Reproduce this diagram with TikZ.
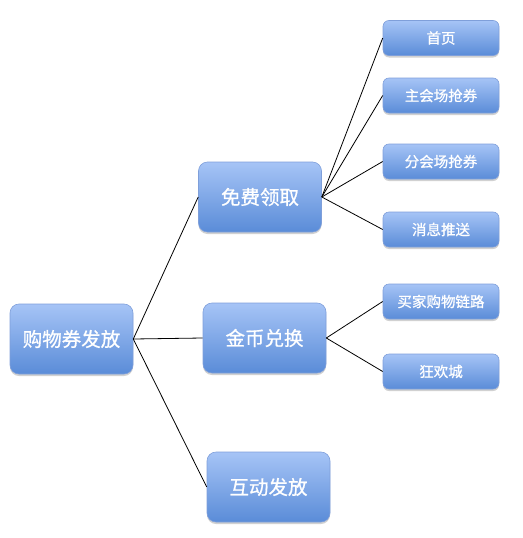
\documentclass[tikz,border=0pt]{standalone}
\usepackage{fontspec}
\newfontfamily\cjk[FakeBold=0.8]{Noto Sans CJK SC}
\usetikzlibrary{shadows}
\definecolor{boxtop}{HTML}{A6C4F6}
\definecolor{boxbot}{HTML}{5A8CD8}
\definecolor{boxedge}{HTML}{7F9FDA}
\begin{document}
\begin{tikzpicture}[x=1pt,y=-1pt,
  boxbase/.style={rectangle, draw=boxedge, line width=0.6pt, top color=boxtop, bottom color=boxbot,
    text=white, inner sep=0pt, font=\cjk,
    drop shadow={shadow xshift=0pt, shadow yshift=-2pt, opacity=0.3, fill=black!60}},
  bigbox/.style={boxbase, rounded corners=9pt, minimum width=123pt, minimum height=70pt, font=\cjk\fontsize{19.5}{22}\selectfont},
  smallbox/.style={boxbase, rounded corners=6pt, minimum width=116pt, minimum height=35pt, font=\cjk\fontsize{14.5}{17}\selectfont},
  link/.style={draw=black, line width=0.8pt}]
\useasboundingbox (0,0) rectangle (522,538);
\node[bigbox] (root) at (71.5,339) {购物券发放};
\node[bigbox] (free) at (260,197) {免费领取};
\node[bigbox] (coin) at (264.5,338) {金币兑换};
\node[bigbox] (inter) at (268.5,487) {互动发放};
\node[smallbox] (home) at (441,38) {首页};
\node[smallbox] (main) at (441,95.5) {主会场抢券};
\node[smallbox] (sub) at (441,161.5) {分会场抢券};
\node[smallbox] (msg) at (441,229.5) {消息推送};
\node[smallbox] (buyer) at (441,301.5) {买家购物链路};
\node[smallbox] (carn) at (441,371.5) {狂欢城};
\draw[link] (root.east) -- (free.west);
\draw[link] (root.east) -- (coin.west);
\draw[link] (root.east) -- (inter.west);
\draw[link] (free.east) -- (home.west);
\draw[link] (free.east) -- (main.west);
\draw[link] (free.east) -- (sub.west);
\draw[link] (free.east) -- (msg.west);
\draw[link] (coin.east) -- (buyer.west);
\draw[link] (coin.east) -- (carn.west);
\end{tikzpicture}
\end{document}
